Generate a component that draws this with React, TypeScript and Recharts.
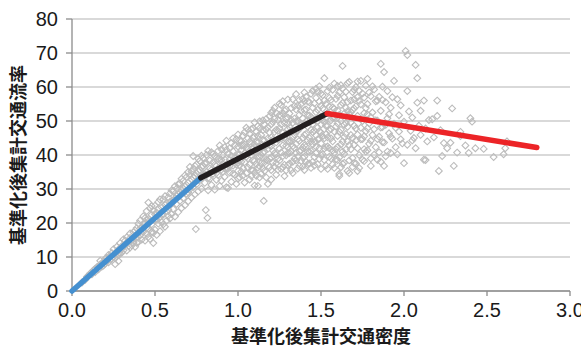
import React from "react";
import { ScatterChart, Scatter, XAxis, YAxis, CartesianGrid, Label } from "recharts";

const xTicks = [0, 0.5, 1.0, 1.5, 2.0, 2.5, 3.0];
const yTicks = [0, 10, 20, 30, 40, 50, 60, 70, 80];
const xTitle = "基準化後集計交通密度";
const yTitle = "基準化後集計交通流率";

// observed points [density, flow]
const observed: [number, number][] = [
  [0.06,2.5],[0.08,3.3],[0.09,4.2],[0.1,4.5],[0.11,5.2],[0.12,4.9],
  [0.13,6.1],[0.14,5.6],[0.15,7.0],[0.16,6.4],[0.17,7.8],[0.18,7.2],[0.19,8.6],[0.17,8.9],[0.2,8.0],[0.2,9.5],
  [0.21,9.8],[0.22,8.4],[0.22,10.6],[0.23,9.2],[0.24,11.2],[0.25,10.1],[0.25,12.3],[0.26,9.6],[0.27,11.6],[0.27,13.0],[0.28,10.8],[0.29,12.4],[0.29,14.1],[0.3,11.3],[0.3,13.2],[0.26,7.9],[0.28,8.8],
  [0.31,15.2],[0.31,12.0],[0.32,13.8],[0.33,11.9],[0.33,15.8],[0.34,14.5],[0.35,12.8],[0.35,16.9],[0.36,15.0],[0.36,13.4],[0.37,17.3],[0.37,14.2],[0.38,16.2],[0.38,13.0],[0.39,18.5],[0.39,15.6],[0.4,17.0],[0.4,14.4],[0.4,19.8],
  [0.41,16.3],[0.41,20.7],[0.42,15.1],[0.42,18.6],[0.43,22.0],[0.43,17.4],[0.44,14.8],[0.44,19.9],[0.45,23.5],[0.45,16.9],[0.46,21.2],[0.46,18.2],[0.47,15.3],[0.47,24.3],[0.48,19.6],[0.48,22.4],[0.49,17.1],[0.49,14.1],[0.5,20.9],[0.5,25.1],[0.5,18.0],[0.46,26.0],
  [0.51,23.1],[0.51,16.5],[0.52,26.2],[0.52,19.8],[0.53,21.7],[0.53,17.6],[0.54,24.6],[0.54,20.3],[0.55,27.0],[0.55,22.5],[0.56,18.9],[0.56,25.3],[0.57,23.4],[0.57,20.7],[0.58,27.6],[0.58,24.0],[0.59,21.3],[0.59,28.7],[0.6,25.7],[0.6,22.6],
  [0.61,29.4],[0.61,24.1],[0.62,27.2],[0.62,21.9],[0.63,30.1],[0.63,25.6],[0.64,23.2],[0.64,28.4],[0.65,31.6],[0.65,26.5],[0.66,24.4],[0.66,29.8],[0.67,32.4],[0.67,27.3],[0.68,25.2],[0.68,30.7],[0.69,33.5],[0.69,28.6],[0.7,26.4],[0.7,31.9],[0.7,35.0],
  [0.71,29.9],[0.71,34.1],[0.72,27.5],[0.72,32.8],[0.73,35.9],[0.73,30.6],[0.73,39.7],[0.74,28.4],[0.74,33.9],[0.75,37.2],[0.75,31.4],[0.746,18.2],[0.76,29.3],[0.76,35.2],[0.77,38.3],[0.77,32.6],[0.78,30.1],[0.78,36.4],[0.79,34.0],[0.79,39.1],[0.8,31.8],[0.8,37.5],[0.806,23.8],[0.816,21.5],
  [0.81,35.1],[0.81,40.0],[0.82,29.6],[0.82,33.2],[0.83,38.4],[0.83,36.0],[0.84,31.2],[0.84,40.8],[0.85,34.5],[0.85,37.9],[0.86,29.8],[0.86,39.6],[0.87,32.7],[0.87,36.8],[0.88,41.2],[0.88,34.1],[0.89,30.9],[0.89,38.5],[0.9,35.7],[0.9,41.7],[0.9,32.4],
  [0.91,37.3],[0.91,39.9],[0.92,33.6],[0.92,42.3],[0.93,30.5],[0.93,36.2],[0.94,30.3],[0.94,40.4],[0.95,34.8],[0.95,38.6],[0.96,43.5],[0.96,32.1],[0.97,36.9],[0.97,41.1],[0.98,34.2],[0.98,39.3],[0.99,44.6],[0.99,31.5],[1.0,37.8],[1.0,42.5],[1.0,35.3],[1.0,46.0],
  [1.01,33.4],[1.01,40.2],[1.02,44.1],[1.02,38.0],[1.03,36.1],[1.03,42.9],[1.04,31.9],[1.04,46.7],[1.05,39.5],[1.05,34.6],[1.06,41.6],[1.06,44.9],[1.07,37.2],[1.07,32.8],[1.08,43.3],[1.08,39.8],[1.09,47.8],[1.09,35.5],[1.1,41.0],[1.1,31.0],[1.1,45.4],[1.1,38.2],
  [1.11,33.9],[1.11,43.8],[1.12,30.9],[1.12,39.6],[1.12,48.5],[1.13,36.7],[1.13,42.4],[1.14,45.9],[1.14,34.5],[1.15,40.7],[1.15,50.2],[1.155,26.5],[1.16,37.9],[1.16,44.3],[1.17,33.4],[1.17,47.5],[1.18,31.5],[1.18,41.8],[1.19,39.0],[1.19,51.4],[1.2,45.2],[1.2,35.6],[1.2,49.0],[1.2,42.6],
  [1.21,37.8],[1.21,53.0],[1.22,40.5],[1.22,46.8],[1.23,34.2],[1.23,43.7],[1.24,50.3],[1.24,38.9],[1.25,55.1],[1.25,41.9],[1.25,47.9],[1.26,35.9],[1.26,44.8],[1.27,52.2],[1.27,39.7],[1.28,49.4],[1.28,33.8],[1.29,42.7],[1.29,46.1],[1.3,56.3],[1.3,37.0],[1.3,51.0],[1.3,44.0],
  [1.31,40.6],[1.31,48.2],[1.32,53.8],[1.32,35.5],[1.33,45.3],[1.33,34.7],[1.34,50.7],[1.34,42.1],[1.35,57.9],[1.35,38.4],[1.35,47.0],[1.36,44.6],[1.36,54.6],[1.37,36.8],[1.37,51.8],[1.38,41.3],[1.38,48.8],[1.39,56.5],[1.39,39.2],[1.4,45.9],[1.4,53.2],[1.4,35.6],[1.4,42.8],[1.4,58.4],
  [1.41,49.9],[1.41,38.0],[1.42,55.7],[1.42,44.3],[1.43,40.9],[1.43,51.6],[1.44,36.2],[1.44,47.4],[1.45,58.9],[1.45,43.1],[1.45,53.9],[1.46,39.4],[1.46,50.4],[1.47,56.8],[1.47,45.8],[1.48,37.3],[1.48,48.1],[1.49,60.2],[1.49,42.0],[1.5,54.5],[1.5,35.9],[1.5,46.6],[1.5,51.3],[1.52,62.6],
  [1.51,40.2],[1.51,57.6],[1.52,44.9],[1.52,49.7],[1.53,36.9],[1.53,55.0],[1.54,35.9],[1.54,52.4],[1.54,42.5],[1.55,59.8],[1.55,47.3],[1.56,39.0],[1.56,56.2],[1.57,44.0],[1.57,50.9],[1.58,36.2],[1.58,61.0],[1.58,53.6],[1.59,41.7],[1.59,48.4],[1.6,57.4],[1.6,38.5],[1.6,45.6],[1.61,33.8],[1.61,34.4],
  [1.61,51.8],[1.62,60.5],[1.62,43.1],[1.63,66.2],[1.63,37.4],[1.63,55.3],[1.64,48.9],[1.64,40.3],[1.65,58.6],[1.65,46.2],[1.66,35.3],[1.66,52.9],[1.67,34.7],[1.67,61.5],[1.67,42.9],[1.68,49.6],[1.68,56.0],[1.69,39.1],[1.69,45.0],[1.7,59.2],[1.7,53.7],[1.7,37.6],
  [1.71,47.8],[1.72,35.3],[1.72,61.6],[1.72,42.0],[1.73,55.9],[1.73,36.2],[1.74,50.6],[1.74,61.8],[1.75,44.7],[1.75,58.1],[1.76,38.2],[1.76,52.3],[1.77,47.0],[1.77,60.4],[1.78,62.4],[1.78,41.4],[1.78,55.0],[1.79,49.3],[1.8,39.0],[1.8,57.3],[1.8,44.2],
  [1.81,52.5],[1.82,47.6],[1.82,59.3],[1.83,42.3],[1.83,55.8],[1.84,50.1],[1.84,38.6],[1.85,57.1],[1.85,45.4],[1.86,66.8],[1.86,38.0],[1.86,53.0],[1.87,48.2],[1.87,60.1],[1.88,64.4],[1.88,36.8],[1.88,43.7],[1.89,55.5],[1.9,50.8],[1.9,58.8],[1.9,41.0],
  [1.91,46.4],[1.92,40.6],[1.92,53.9],[1.93,57.0],[1.93,44.8],[1.94,61.8],[1.94,49.2],[1.95,42.3],[1.96,56.4],[1.96,40.2],[1.97,51.7],[1.97,46.9],[1.98,54.6],[1.99,43.4],[2.0,37.6],[2.0,49.8],
  [2.01,70.6],[2.02,69.4],[2.02,58.8],[2.02,43.0],[2.03,52.8],[2.04,47.1],[2.05,51.0],[2.05,44.3],[2.06,45.0],[2.07,66.5],[2.07,42.0],[2.08,62.6],[2.08,55.4],[2.09,48.6],[2.1,53.0],[2.1,45.9],
  [2.12,56.0],[2.12,38.6],[2.13,38.5],[2.13,47.8],[2.14,44.0],[2.15,50.3],[2.17,50.5],[2.18,45.2],[2.2,56.0],[2.2,51.5],[2.21,35.3],[2.22,47.3],[2.23,39.7],[2.24,43.5],[2.26,42.0],[2.28,43.6],[2.29,53.7],[2.3,36.8],[2.32,40.7],
  [2.34,46.8],[2.34,45.6],[2.37,42.8],[2.39,40.6],[2.4,50.8],[2.41,49.8],[2.43,42.0],[2.48,41.8],[2.54,39.4],[2.6,40.2],[2.61,42.0],[2.62,44.0],
];

// further observed points in the dense part of the cloud
const observedDense: [number, number][] = [
  [0.12,5.6],[0.14,6.6],[0.16,7.2],[0.18,8.1],[0.19,7.5],[0.21,8.9],[0.23,10.3],[0.24,9.5],[0.26,11.0],[0.27,10.2],[0.28,12.2],[0.3,12.4],[0.29,10.9],
  [0.32,14.8],[0.34,13.2],[0.35,15.6],[0.37,15.8],[0.38,17.8],[0.39,14.2],[0.41,18.4],[0.42,16.9],[0.43,19.8],[0.44,21.5],[0.45,18.6],[0.46,15.9],[0.47,20.4],[0.48,17.4],[0.49,23.6],[0.5,22.6],[0.48,25.0],[0.45,21.0],
  [0.51,21.0],[0.52,24.3],[0.53,26.9],[0.54,22.4],[0.55,19.6],[0.56,27.9],[0.57,25.8],[0.58,22.1],[0.59,26.2],[0.6,29.6],[0.61,26.6],[0.62,30.8],[0.63,28.0],[0.64,31.4],[0.65,29.0],[0.66,33.0],[0.67,30.1],[0.68,34.0],[0.69,31.2],[0.7,29.0],[0.71,36.5],[0.72,35.2],[0.73,33.4],[0.74,36.8],[0.75,34.6],[0.76,38.9],[0.77,35.5],[0.78,39.8],[0.79,36.8],[0.8,34.4],
  [0.81,37.6],[0.82,41.2],[0.83,33.0],[0.84,35.6],[0.85,40.2],[0.86,37.1],[0.87,34.7],[0.88,38.9],[0.89,42.8],[0.9,38.6],[0.91,35.1],[0.92,38.7],[0.93,41.5],[0.94,35.9],[0.95,42.0],[0.96,39.8],[0.97,34.5],[0.98,42.9],[0.99,37.2],[1.0,40.1],[0.93,44.2],[0.97,44.9],
  [1.01,37.0],[1.01,44.3],[1.02,35.1],[1.02,41.4],[1.03,39.4],[1.03,45.7],[1.04,37.9],[1.04,43.1],[1.05,42.3],[1.05,48.0],[1.06,36.3],[1.06,39.0],[1.07,40.7],[1.07,46.2],[1.08,35.6],[1.08,47.6],[1.09,42.1],[1.09,38.5],[1.1,49.6],[1.1,34.8],[1.11,40.6],[1.11,46.9],[1.12,36.3],[1.12,43.7],[1.13,39.5],[1.13,49.9],[1.14,41.8],[1.14,37.6],[1.15,44.4],[1.15,47.3],[1.16,35.3],[1.16,41.0],[1.17,50.6],[1.17,38.6],[1.18,44.9],[1.18,48.2],[1.19,36.4],[1.19,42.9],[1.2,39.2],[1.2,52.4],
  [1.21,44.5],[1.21,49.7],[1.22,36.5],[1.22,53.9],[1.23,47.4],[1.23,40.2],[1.24,44.6],[1.24,35.7],[1.25,38.4],[1.25,51.8],[1.26,49.0],[1.26,54.7],[1.27,42.8],[1.27,46.5],[1.28,37.1],[1.28,53.1],[1.29,39.9],[1.29,50.6],[1.3,47.6],[1.3,40.6],[1.31,43.9],[1.31,52.2],[1.31,37.5],[1.32,47.0],[1.32,41.0],[1.33,56.4],[1.33,49.5],[1.34,38.9],[1.34,46.0],[1.35,53.4],[1.35,43.2],[1.36,36.0],[1.36,50.0],[1.37,41.1],[1.37,56.2],[1.37,47.7],[1.38,38.2],[1.38,53.0],[1.39,45.0],[1.39,50.8],[1.4,49.1],[1.4,39.5],
  [1.41,42.4],[1.41,53.4],[1.41,57.1],[1.42,37.3],[1.42,48.3],[1.43,45.0],[1.43,55.5],[1.44,41.2],[1.44,51.2],[1.44,58.0],[1.45,38.0],[1.45,46.7],[1.46,43.9],[1.46,55.2],[1.47,40.5],[1.47,52.6],[1.48,44.6],[1.48,58.6],[1.48,50.0],[1.49,38.8],[1.49,47.0],[1.49,55.7],[1.5,43.4],[1.5,58.1],[1.51,50.3],[1.51,45.5],[1.52,38.5],[1.52,56.0],[1.53,46.1],[1.53,51.1],[1.53,42.3],[1.54,58.8],[1.54,48.6],[1.55,39.5],[1.55,54.2],[1.56,44.9],[1.56,50.2],[1.57,37.2],[1.57,59.2],[1.57,54.0],[1.58,46.9],[1.58,40.6],[1.59,51.7],[1.59,56.5],[1.6,42.4],[1.6,49.3],[1.6,53.1],
  [1.61,39.3],[1.61,46.8],[1.61,58.4],[1.62,36.4],[1.62,50.0],[1.62,54.7],[1.63,44.0],[1.63,59.6],[1.64,37.7],[1.64,52.2],[1.64,57.0],[1.65,41.6],[1.65,49.4],[1.66,44.0],[1.66,55.6],[1.66,61.1],[1.67,38.4],[1.67,51.9],[1.68,45.9],[1.68,41.7],[1.69,53.3],[1.69,58.5],[1.7,48.6],[1.7,43.0],[1.71,37.5],[1.71,54.3],[1.71,60.0],[1.72,46.0],[1.72,51.5],[1.73,40.0],[1.73,58.9],[1.74,44.6],[1.74,54.9],[1.75,38.6],[1.75,50.0],[1.76,56.9],[1.76,45.5],[1.77,41.0],[1.77,53.8],[1.78,47.9],[1.79,58.4],[1.79,43.3],[1.8,51.2],[1.8,36.8],
  [1.81,45.9],[1.81,60.2],[1.82,40.1],[1.83,50.2],[1.84,44.7],[1.84,56.0],[1.85,40.8],[1.86,48.1],[1.87,43.8],[1.87,56.2],[1.89,39.6],[1.89,48.9],[1.91,52.0],[1.92,45.4],[1.95,48.0],[1.98,44.6],
];

// core of the cloud (densest band)
const observedCore: [number, number][] = [
  [0.92,36.0],[0.95,36.8],[0.98,37.9],[1.0,33.1],[1.02,42.8],[1.03,34.0],[1.04,40.6],[1.06,47.4],[1.07,43.9],[1.08,33.8],[1.09,45.2],[1.1,43.1],[1.11,37.3],[1.12,45.6],[1.13,33.4],[1.13,47.8],[1.14,39.8],[1.15,36.1],[1.16,48.9],[1.17,42.7],[1.18,38.4],[1.19,46.6],[1.2,32.8],[1.21,41.3],[1.22,50.6],[1.23,37.6],[1.23,52.4],[1.24,47.1],[1.25,44.9],[1.26,40.7],[1.26,51.5],[1.27,36.4],[1.27,55.8],[1.28,45.0],[1.29,35.5],[1.29,53.4],[1.3,42.3],[1.3,49.2],
  [1.32,44.2],[1.32,50.4],[1.33,38.0],[1.33,42.6],[1.34,54.4],[1.35,40.7],[1.35,49.9],[1.36,47.1],[1.36,39.6],[1.37,44.2],[1.38,55.0],[1.39,36.6],[1.39,42.2],[1.4,55.8],[1.41,46.2],[1.42,41.0],[1.42,51.6],[1.43,37.5],[1.44,44.0],[1.45,49.1],[1.46,36.9],[1.46,47.2],[1.47,42.4],[1.47,59.5],[1.48,53.3],[1.49,44.8],[1.5,40.0],[1.5,48.9],
  [1.51,53.7],[1.52,41.9],[1.53,48.6],[1.54,45.2],[1.55,42.0],[1.55,56.8],[1.56,47.6],[1.57,41.3],[1.58,50.9],[1.59,38.7],[1.6,60.3],[1.62,47.4],[1.63,41.0],[1.64,45.3],[1.65,53.9],[1.66,48.3],[1.68,52.6],[1.69,36.5],[1.7,56.4],[1.71,44.3],[1.72,57.0],[1.74,48.0],[1.76,41.7],[1.78,51.9],
];

// fitted piecewise segments
const segBlueX = [0, 0.776];
const segBlueY = [0, 33.3];
const segBlackX = [0.776, 1.537];
const segBlackY = [33.3, 52.2];
const segRedX = [1.537, 2.8];
const segRedY = [52.2, 42.2];

const toPts = (xs: number[], ys: number[]) => xs.map((x, i) => ({ x, y: ys[i] }));
const scatterData = observed.concat(observedDense, observedCore).map(([x, y]) => ({ x, y }));

const Diamond = (props: any) => {
  const { cx, cy } = props;
  if (cx == null || cy == null) return <g />;
  const r = 3.4;
  return (
    <path
      d={`M${cx},${cy - r}L${cx + r},${cy}L${cx},${cy + r}L${cx - r},${cy}Z`}
      fill="none"
      stroke="#bcbcbc"
      strokeWidth={1.1}
    />
  );
};

const Empty = () => <g />;

const tickStyle = { fontFamily: "'Liberation Sans', Arial, sans-serif", fontSize: 20, fill: "#1a1a1a" };
const titleFont = "'Noto Sans CJK JP', sans-serif";

export default function App() {
  return (
    <div style={{ position: "absolute", left: 0, top: 0, width: 581, height: 352, background: "#fff" }}>
      <ScatterChart width={581} height={352} margin={{ top: 19, right: 11, bottom: 0, left: 0 }}>
        <CartesianGrid vertical={false} stroke="#b4b4b4" strokeWidth={1.2} />
        <XAxis
          type="number"
          dataKey="x"
          domain={[0, 3]}
          ticks={xTicks}
          tickFormatter={(v: number) => v.toFixed(1)}
          height={61}
          tick={tickStyle}
          tickSize={5}
          tickMargin={7}
          stroke="#8c8c8c"
          strokeWidth={1.3}
          interval={0}
        >
          <Label
            content={(p: any) => {
              const vb = p.viewBox || {};
              return (
                <text
                  x={vb.x + vb.width / 2}
                  y={343}
                  textAnchor="middle"
                  fontFamily={titleFont}
                  fontWeight="bold"
                  fontSize={18}
                  fill="#1a1a1a"
                >
                  {xTitle}
                </text>
              );
            }}
          />
        </XAxis>
        <YAxis
          type="number"
          dataKey="y"
          domain={[0, 80]}
          ticks={yTicks}
          width={72}
          tick={tickStyle}
          tickSize={6}
          tickMargin={8}
          stroke="#8c8c8c"
          strokeWidth={1.3}
          interval={0}
        >
          <Label
            content={(p: any) => {
              const vb = p.viewBox || {};
              const cy = vb.y + vb.height / 2;
              const cx = 17;
              return (
                <text
                  x={cx}
                  y={cy}
                  transform={`rotate(-90 ${cx} ${cy})`}
                  textAnchor="middle"
                  dominantBaseline="central"
                  fontFamily={titleFont}
                  fontWeight="bold"
                  fontSize={18}
                  fill="#1a1a1a"
                >
                  {yTitle}
                </text>
              );
            }}
          />
        </YAxis>
        <Scatter data={scatterData} shape={Diamond} isAnimationActive={false} />
        <Scatter
          data={toPts(segBlueX, segBlueY)}
          shape={Empty}
          line={{ stroke: "#4590d0", strokeWidth: 5.5, strokeLinecap: "round" }}
          isAnimationActive={false}
        />
        <Scatter
          data={toPts(segBlackX, segBlackY)}
          shape={Empty}
          line={{ stroke: "#231f20", strokeWidth: 5.5, strokeLinecap: "round" }}
          isAnimationActive={false}
        />
        <Scatter
          data={toPts(segRedX, segRedY)}
          shape={Empty}
          line={{ stroke: "#ec2427", strokeWidth: 5.5, strokeLinecap: "round" }}
          isAnimationActive={false}
        />
      </ScatterChart>
    </div>
  );
}
